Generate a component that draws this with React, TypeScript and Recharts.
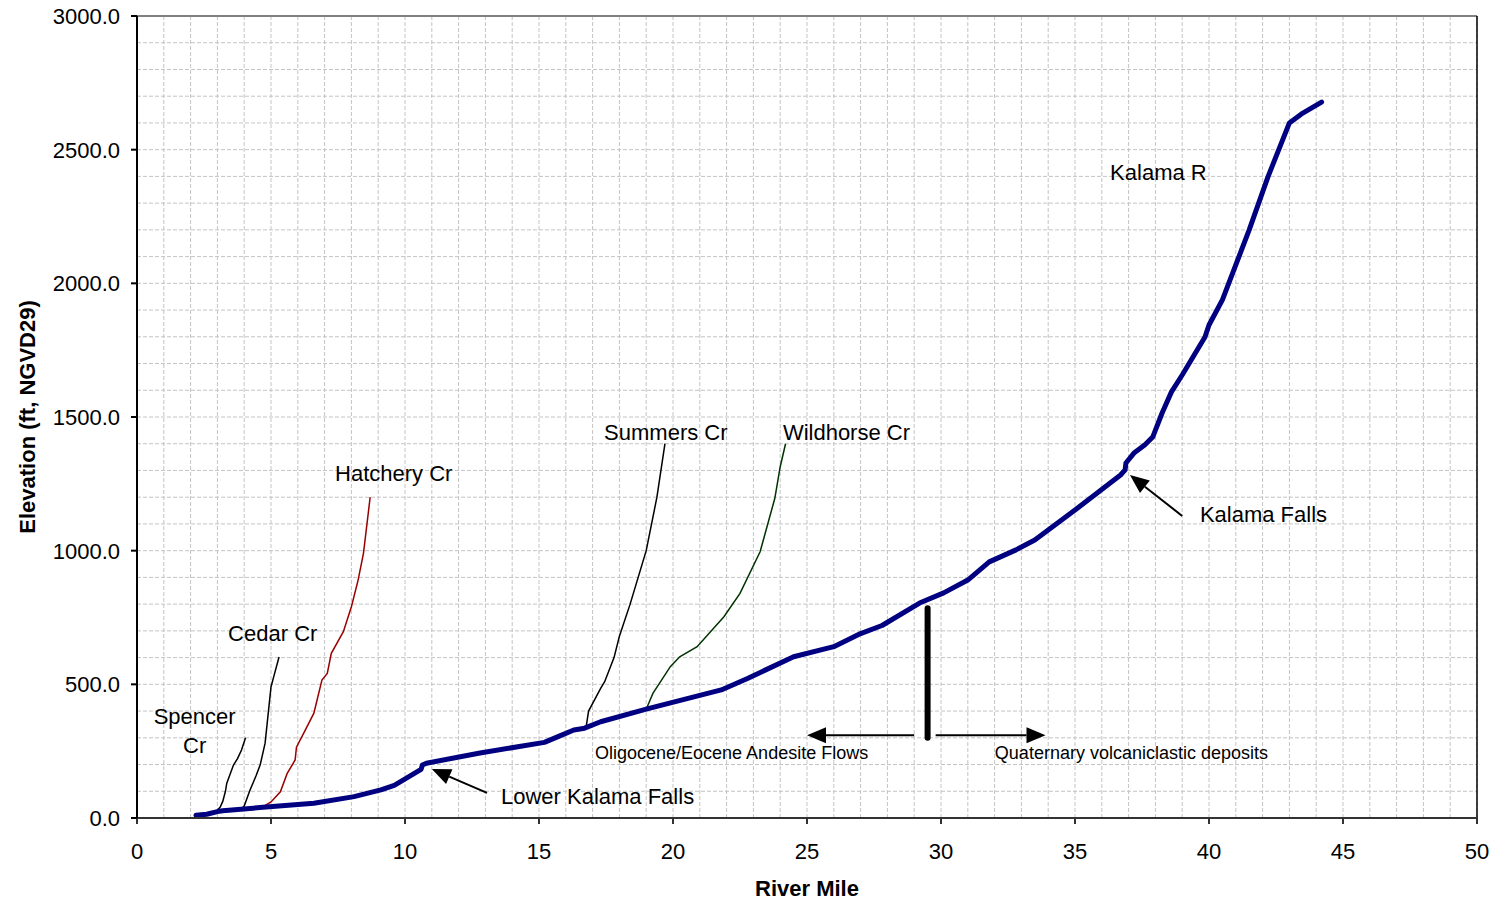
import { LineChart, Line, XAxis, YAxis, CartesianGrid, ReferenceLine, ReferenceDot } from 'recharts'

const FONT = 'Arial, "Liberation Sans", sans-serif'

// longitudinal profiles: river mile vs elevation (ft, NGVD29)
const kalamaR = [
  { x: 2.2, y: 10 }, { x: 2.6, y: 14 }, { x: 3.0, y: 24 }, { x: 3.2, y: 27 },
  { x: 4.7, y: 40 }, { x: 6.6, y: 55 }, { x: 8.1, y: 80 }, { x: 9.1, y: 105 },
  { x: 9.6, y: 122 }, { x: 10.6, y: 182 }, { x: 10.65, y: 198 }, { x: 10.8, y: 205 },
  { x: 12.8, y: 243 }, { x: 15.2, y: 283 }, { x: 15.8, y: 308 }, { x: 16.3, y: 329 },
  { x: 16.7, y: 336 }, { x: 17.3, y: 360 }, { x: 19.0, y: 407 }, { x: 21.8, y: 479 },
  { x: 22.8, y: 523 }, { x: 24.5, y: 603 }, { x: 26.0, y: 641 }, { x: 27.0, y: 690 },
  { x: 27.8, y: 720 }, { x: 29.2, y: 804 }, { x: 30.1, y: 842 }, { x: 31.0, y: 890 },
  { x: 31.8, y: 958 }, { x: 32.8, y: 1003 }, { x: 33.5, y: 1040 }, { x: 35.0, y: 1152 },
  { x: 35.9, y: 1221 }, { x: 36.7, y: 1283 }, { x: 36.87, y: 1302 }, { x: 36.9, y: 1328 },
  { x: 37.2, y: 1365 }, { x: 37.6, y: 1395 }, { x: 37.9, y: 1425 }, { x: 38.25, y: 1515 },
  { x: 38.6, y: 1594 }, { x: 39.0, y: 1657 }, { x: 39.85, y: 1799 }, { x: 40.0, y: 1844 },
  { x: 40.5, y: 1938 }, { x: 41.5, y: 2200 }, { x: 42.2, y: 2398 }, { x: 43.0, y: 2600 },
  { x: 43.5, y: 2637 }, { x: 44.2, y: 2678 },
]

const spencerCr = [
  { x: 3.0, y: 30 }, { x: 3.1, y: 40 }, { x: 3.2, y: 62 }, { x: 3.3, y: 100 },
  { x: 3.35, y: 130 }, { x: 3.6, y: 198 }, { x: 3.75, y: 222 }, { x: 3.9, y: 254 },
  { x: 4.05, y: 300 },
]

const cedarCr = [
  { x: 3.85, y: 30 }, { x: 4.0, y: 45 }, { x: 4.2, y: 100 }, { x: 4.45, y: 160 },
  { x: 4.6, y: 200 }, { x: 4.78, y: 280 }, { x: 5.0, y: 490 }, { x: 5.1, y: 528 },
  { x: 5.3, y: 602 },
]

const hatcheryCr = [
  { x: 4.6, y: 36 }, { x: 5.0, y: 60 }, { x: 5.35, y: 98 }, { x: 5.6, y: 166 },
  { x: 5.9, y: 217 }, { x: 5.95, y: 265 }, { x: 6.25, y: 323 }, { x: 6.6, y: 392 },
  { x: 6.9, y: 516 }, { x: 7.1, y: 541 }, { x: 7.25, y: 616 }, { x: 7.7, y: 697 },
  { x: 8.0, y: 790 }, { x: 8.25, y: 890 }, { x: 8.45, y: 990 }, { x: 8.7, y: 1200 },
]

const summersCr = [
  { x: 16.75, y: 335 }, { x: 16.85, y: 400 }, { x: 17.3, y: 485 }, { x: 17.45, y: 510 },
  { x: 17.8, y: 600 }, { x: 18.0, y: 680 }, { x: 18.4, y: 800 }, { x: 19.0, y: 1000 },
  { x: 19.4, y: 1200 }, { x: 19.7, y: 1400 },
]

const wildhorseCr = [
  { x: 19.0, y: 407 }, { x: 19.25, y: 466 }, { x: 19.9, y: 566 }, { x: 20.25, y: 603 },
  { x: 20.9, y: 641 }, { x: 21.9, y: 753 }, { x: 22.5, y: 840 }, { x: 23.25, y: 996 },
  { x: 23.8, y: 1196 }, { x: 24.0, y: 1314 }, { x: 24.2, y: 1400 },
]

// every mile / every 100 ft gets a grid line, labels on the 5 / 500 steps
const mileTicks = Array.from({ length: 51 }, (_, i) => i)
const elevTicks = Array.from({ length: 31 }, (_, i) => i * 100)

const creekLabels = [
  { x: 36.31, y: 2387, text: 'Kalama R' },
  { x: 17.43, y: 1414, text: 'Summers Cr' },
  { x: 24.1, y: 1414, text: 'Wildhorse Cr' },
  { x: 7.39, y: 1261, text: 'Hatchery Cr' },
  { x: 3.4, y: 662, text: 'Cedar Cr' },
  { x: 39.66, y: 1107, text: 'Kalama Falls' },
  { x: 13.58, y: 52, text: 'Lower Kalama Falls' },
]
const spencerLabel = { x: 2.15, y: 352, lines: ['Spencer', 'Cr'] }

const geologyLabels = [
  { x: 17.09, y: 221, text: 'Oligocene/Eocene Andesite Flows' },
  { x: 32.01, y: 221, text: 'Quaternary volcaniclastic deposits' },
]

const fallsArrows = [
  [{ x: 39.0, y: 1130 }, { x: 37.05, y: 1283 }],
  [{ x: 13.06, y: 94 }, { x: 11.0, y: 183 }],
]
const contactArrows = [
  [{ x: 29.0, y: 310 }, { x: 25.0, y: 310 }],
  [{ x: 29.8, y: 310 }, { x: 33.9, y: 310 }],
]
const contactBar = [{ x: 29.5, y: 300 }, { x: 29.5, y: 785 }]

const MileTick = ({ x, y, payload }: any) => {
  const v = payload.value
  if (v % 5 !== 0) return <g />
  return (
    <g>
      <line x1={x} y1={y - 6} x2={x} y2={y} stroke="#333" strokeWidth={2} />
      <text x={x} y={y + 35} textAnchor="middle" fontSize={22} fontFamily={FONT} fill="#000">
        {v}
      </text>
    </g>
  )
}

const ElevTick = ({ x, y, payload }: any) => {
  const v = payload.value
  if (v % 500 !== 0) return <g />
  return (
    <g>
      <line x1={x} y1={y} x2={x + 6} y2={y} stroke="#000" strokeWidth={2} />
      <text x={x - 11} y={y + 8} textAnchor="end" fontSize={22} fontFamily={FONT} fill="#000">
        {v.toFixed(1)}
      </text>
    </g>
  )
}

const Arrow = ({ x1, y1, x2, y2 }: any) => {
  const a = Math.atan2(y2 - y1, x2 - x1)
  const len = 19
  const half = 8
  const bx = x2 - len * Math.cos(a)
  const by = y2 - len * Math.sin(a)
  const pts = [
    `${x2},${y2}`,
    `${bx - half * Math.sin(a)},${by + half * Math.cos(a)}`,
    `${bx + half * Math.sin(a)},${by - half * Math.cos(a)}`,
  ].join(' ')
  return (
    <g>
      <line x1={x1} y1={y1} x2={bx} y2={by} stroke="#000" strokeWidth={2} />
      <polygon points={pts} fill="#000" />
    </g>
  )
}

const textShape = (text: string, size: number) => (p: any) => (
  <text x={p.cx} y={p.cy} fontSize={size} fontFamily={FONT} fill="#000">
    {text}
  </text>
)

export default function App() {
  return (
    // pull the chart into the body margin so it fills the window
    <div style={{ fontFamily: FONT, margin: '-8px 0 0 -8px' }}>
      <LineChart width={1497} height={902} margin={{ top: 16, right: 20, left: 27, bottom: 24 }}>
        <CartesianGrid stroke="#c4c4c4" strokeDasharray="4 2" strokeWidth={1} />
        <XAxis
          type="number"
          dataKey="x"
          domain={[0, 50]}
          ticks={mileTicks}
          interval={0}
          tick={<MileTick />}
          tickLine={false}
          tickSize={6}
          tickMargin={0}
          height={60}
          axisLine={{ stroke: '#333', strokeWidth: 2 }}
          allowDataOverflow
          label={{
            content: ({ viewBox }: any) => (
              <text
                x={viewBox.x + viewBox.width / 2}
                y={viewBox.y + 78}
                textAnchor="middle"
                fontSize={22}
                fontWeight="bold"
                fontFamily={FONT}
              >
                River Mile
              </text>
            ),
          }}
        />
        <YAxis
          type="number"
          dataKey="y"
          domain={[0, 3000]}
          ticks={elevTicks}
          interval={0}
          tick={<ElevTick />}
          tickLine={false}
          tickSize={6}
          tickMargin={0}
          width={110}
          axisLine={{ stroke: '#000', strokeWidth: 2 }}
          allowDataOverflow
          label={{
            content: ({ viewBox }: any) => {
              const cx = viewBox.x
              const cy = viewBox.y + viewBox.height / 2
              return (
                <text
                  x={cx}
                  y={cy}
                  transform={`rotate(-90, ${cx}, ${cy})`}
                  textAnchor="middle"
                  dominantBaseline="central"
                  fontSize={22}
                  fontWeight="bold"
                  fontFamily={FONT}
                >
                  Elevation (ft, NGVD29)
                </text>
              )
            },
          }}
        />

        {/* plot frame on the open sides */}
        <ReferenceLine y={3000} stroke="#808080" strokeWidth={2} />
        <ReferenceLine x={50} stroke="#000" strokeWidth={1.5} />

        <Line data={spencerCr} dataKey="y" stroke="#000" strokeWidth={1.5} dot={false} isAnimationActive={false} />
        <Line data={cedarCr} dataKey="y" stroke="#000" strokeWidth={1.5} dot={false} isAnimationActive={false} />
        <Line data={hatcheryCr} dataKey="y" stroke="#990000" strokeWidth={1.5} dot={false} isAnimationActive={false} />
        <Line data={summersCr} dataKey="y" stroke="#000" strokeWidth={1.5} dot={false} isAnimationActive={false} />
        <Line data={wildhorseCr} dataKey="y" stroke="#003300" strokeWidth={1.5} dot={false} isAnimationActive={false} />
        <Line
          data={kalamaR}
          dataKey="y"
          stroke="#000080"
          strokeWidth={5}
          strokeLinejoin="round"
          strokeLinecap="round"
          dot={false}
          isAnimationActive={false}
        />

        {/* geologic contact and the two units either side */}
        <ReferenceLine segment={contactBar} stroke="#000" strokeWidth={6} strokeLinecap="round" />
        {contactArrows.map((seg, i) => (
          <ReferenceLine key={`c${i}`} segment={seg} shape={<Arrow />} />
        ))}
        {fallsArrows.map((seg, i) => (
          <ReferenceLine key={`f${i}`} segment={seg} shape={<Arrow />} />
        ))}

        {creekLabels.map((l) => (
          <ReferenceDot key={l.text} x={l.x} y={l.y} r={0} shape={textShape(l.text, 22)} />
        ))}
        {geologyLabels.map((l) => (
          <ReferenceDot key={l.text} x={l.x} y={l.y} r={0} shape={textShape(l.text, 18)} />
        ))}
        <ReferenceDot
          x={spencerLabel.x}
          y={spencerLabel.y}
          r={0}
          shape={(p: any) => (
            <text x={p.cx} y={p.cy} textAnchor="middle" fontSize={22} fontFamily={FONT} fill="#000">
              <tspan x={p.cx}>{spencerLabel.lines[0]}</tspan>
              <tspan x={p.cx} dy={29}>{spencerLabel.lines[1]}</tspan>
            </text>
          )}
        />
      </LineChart>
    </div>
  )
}
